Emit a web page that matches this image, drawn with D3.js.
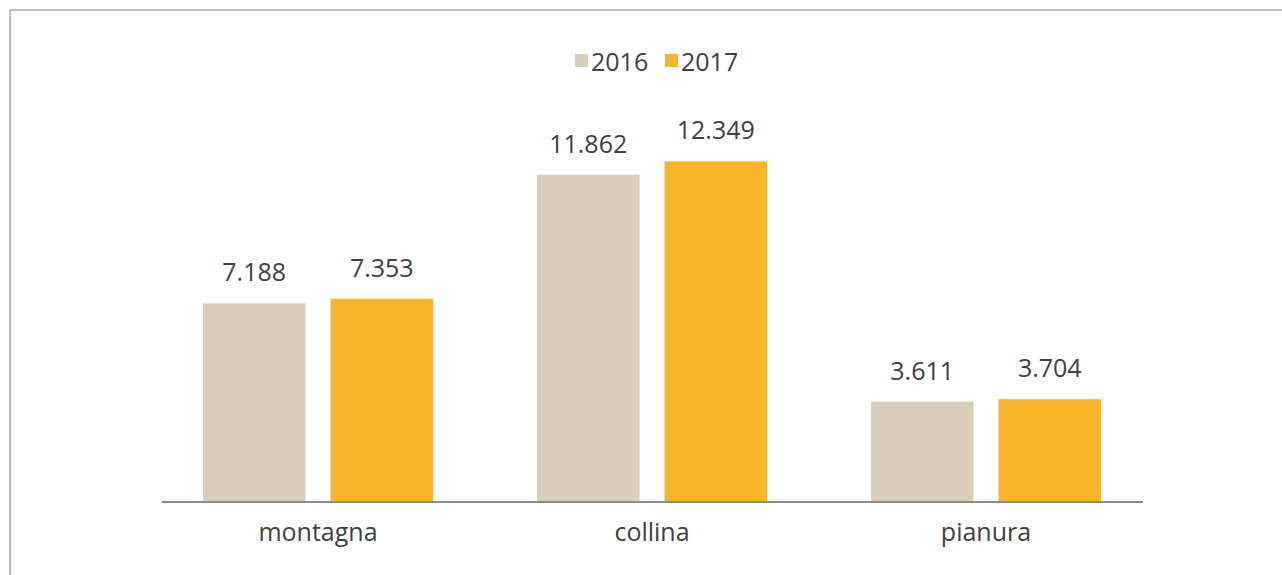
<!DOCTYPE html>
<html>
<head>
<meta charset="utf-8">
<script src="https://cdn.jsdelivr.net/npm/d3@7"></script>
<style>
  html, body { margin: 0; padding: 0; background: #fff; }
  svg { display: block; }
  text { font-family: "Open Sans", "Noto Sans", sans-serif; fill: #404040; }
</style>
</head>
<body>
<svg id="chart" width="1282" height="575"></svg>
<script>
// Aree altimetriche e valori per anno
const categories = ["montagna", "collina", "pianura"];
const years = ["2016", "2017"];
const values2016 = [7188, 11862, 3611];
const values2017 = [7353, 12349, 3704];
const colors = ["#DACDBA", "#F8B42A"];

const series = [values2016, values2017];
const rows = categories.map((c, i) => ({
  category: c,
  bars: years.map((y, j) => ({ year: y, value: series[j][i], color: colors[j] }))
}));

const fmt = v => d3.format(",")(v).replace(/,/g, ".");

const svg = d3.select("#chart");
const W = 1282, H = 575;

// cornice
svg.append("rect")
  .attr("x", 10).attr("y", 10)
  .attr("width", W + 20).attr("height", H + 20)
  .attr("fill", "none").attr("stroke", "#bdbdbd").attr("stroke-width", 2);

const x0 = d3.scaleBand()
  .domain(categories)
  .range([151, 1153])
  .paddingInner(0.311)
  .paddingOuter(0.1555);

const x1 = d3.scaleBand()
  .domain(years)
  .range([0, x0.bandwidth()])
  .paddingInner(0.196);

const y = d3.scaleLinear()
  .domain([0, 14000])
  .range([501, 501 - 14000 * 0.0275]);

const groups = svg.append("g").selectAll("g")
  .data(rows)
  .join("g")
  .attr("transform", d => `translate(${x0(d.category)},0)`);

groups.selectAll("rect")
  .data(d => d.bars)
  .join("rect")
  .attr("x", d => x1(d.year))
  .attr("y", d => y(d.value))
  .attr("width", x1.bandwidth())
  .attr("height", d => y(0) - y(d.value))
  .attr("fill", d => d.color);

groups.selectAll("text.val")
  .data(d => d.bars)
  .join("text")
  .attr("class", "val")
  .attr("x", d => x1(d.year) + x1.bandwidth() / 2)
  .attr("y", d => y(d.value) - 22)
  .attr("text-anchor", "middle")
  .style("font-size", "25px")
  .text(d => fmt(d.value));

// asse categorie
const axis = svg.append("g")
  .attr("transform", `translate(0,${y(0) + 1})`)
  .call(d3.axisBottom(x0).tickSize(0).tickPadding(0));
axis.select(".domain").remove();
axis.append("line")
  .attr("x1", 162).attr("x2", 1143)
  .attr("y1", 0).attr("y2", 0)
  .attr("stroke", "#8c8c8c").attr("stroke-width", 2);
axis.selectAll(".tick text")
  .attr("y", 39)
  .attr("dy", 0)
  .style("font-size", "25px")
  .style("font-family", "\"Open Sans\", \"Noto Sans\", sans-serif")
  .attr("fill", "#404040");

// legenda
const legend = svg.append("g").attr("transform", "translate(575,0)");
const legendX = [0, 90];
const lg = legend.selectAll("g")
  .data(years)
  .join("g")
  .attr("transform", (d, i) => `translate(${legendX[i]},0)`);
lg.append("rect")
  .attr("x", 0).attr("y", 54)
  .attr("width", 13).attr("height", 13)
  .attr("fill", (d, i) => colors[i]);
lg.append("text")
  .attr("x", 16).attr("y", 71)
  .style("font-size", "25px")
  .text(d => d);
</script>
</body>
</html>
